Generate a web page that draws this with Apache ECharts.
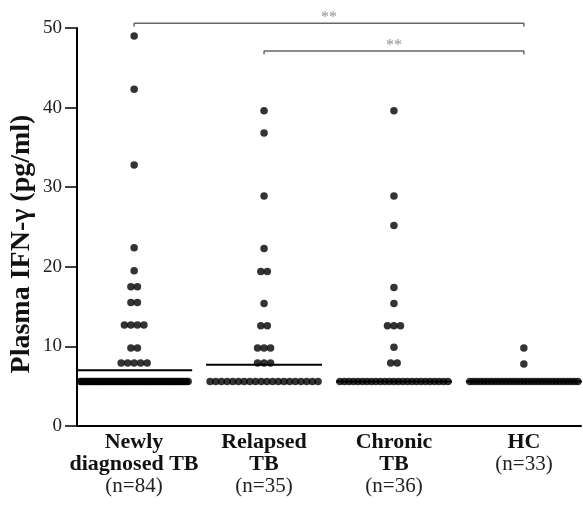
<!DOCTYPE html>
<html>
<head>
<meta charset="utf-8">
<script src="https://cdn.jsdelivr.net/npm/echarts@6/dist/echarts.min.js"></script>
<style>html,body{margin:0;padding:0;background:#fff}#c{width:583px;height:505px}</style>
</head>
<body>
<div id="c"></div>
<script>
// ---- data ----
var categories = ['Newly\ndiagnosed TB', 'Relapsed\nTB', 'Chronic\nTB', 'HC'];
var groupSizes = ['(n=84)', '(n=35)', '(n=36)', '(n=33)'];

var newlyLevels = [49.0, 42.3, 32.8, 22.4, 19.5, 17.5, 15.5, 12.7, 9.8, 7.9, 5.6];
var newlyCounts = [1, 1, 1, 1, 1, 2, 2, 4, 2, 5, 64];

var relapsedLevels = [39.6, 36.8, 28.9, 22.3, 19.4, 15.4, 12.6, 9.8, 7.9, 5.6];
var relapsedCounts = [1, 1, 1, 1, 2, 1, 2, 3, 3, 20];

var chronicLevels = [39.6, 28.9, 25.2, 17.4, 15.4, 12.6, 9.9, 7.9, 5.6];
var chronicCounts = [1, 1, 1, 1, 1, 3, 1, 2, 25];

var hcLevels = [9.8, 7.8, 5.6];
var hcCounts = [1, 1, 31];

var medians = [7.0, 7.7, 5.6, 5.6];

var yTicks = [0, 10, 20, 30, 40, 50];

var brackets = [
  { from: 1, to: 4, level: 50.6, text: '**' },
  { from: 2, to: 4, level: 47.1, text: '**' }
];

// ---- layout ----
var xMin = 0.56, xMax = 4.44;
var gridLeft = 77, gridRight = 2, gridTop = 28, gridBottom = 79;
var pxPerUnit = (583 - gridLeft - gridRight) / (xMax - xMin);
var dotStepPx = 6.5, maxSpreadPx = 108, medianHalfPx = 58;

function spread(levels, counts, center) {
  var pts = [];
  for (var i = 0; i < levels.length; i++) {
    var k = counts[i];
    var step = k > 1 ? Math.min(dotStepPx, maxSpreadPx / (k - 1)) : 0;
    for (var j = 0; j < k; j++) {
      var off = (j - (k - 1) / 2) * step / pxPerUnit;
      pts.push([center + off, levels[i]]);
    }
  }
  return pts;
}

var groups = [
  [newlyLevels, newlyCounts],
  [relapsedLevels, relapsedCounts],
  [chronicLevels, chronicCounts],
  [hcLevels, hcCounts]
];

var series = [];
var dots = [];
groups.forEach(function (g, i) {
  dots = dots.concat(spread(g[0], g[1], i + 1));
});
series.push({
  type: 'scatter', xAxisIndex: 0, yAxisIndex: 0,
  symbol: 'circle', symbolSize: 7.5,
  itemStyle: { color: '#000' },
  data: dots, z: 3, silent: true
});

medians.forEach(function (m, i) {
  var h = medianHalfPx / pxPerUnit;
  series.push({
    type: 'line', xAxisIndex: 0, yAxisIndex: 0,
    symbol: 'none', silent: true, z: 4,
    lineStyle: { color: '#000', width: 2 },
    data: [[i + 1 - h, m], [i + 1 + h, m]]
  });
});

brackets.forEach(function (b) {
  series.push({
    type: 'line', xAxisIndex: 0, yAxisIndex: 0,
    symbol: 'none', silent: true, clip: false,
    lineStyle: { color: '#666', width: 1.5 },
    data: [[b.from, b.level - 0.4], [b.from, b.level], [b.to, b.level], [b.to, b.level - 0.4]]
  });
  series.push({
    type: 'scatter', xAxisIndex: 0, yAxisIndex: 0,
    symbolSize: 0, silent: true, clip: false,
    label: { show: true, position: 'top', distance: -3, formatter: b.text,
      color: '#777', fontSize: 16, fontFamily: 'Liberation Serif' },
    data: [[(b.from + b.to) / 2, b.level]]
  });
});

var chart = echarts.init(document.getElementById('c'), null, { renderer: 'canvas' });
chart.setOption({
  animation: false,
  backgroundColor: '#fff',
  grid: [
    { left: gridLeft, right: gridRight, top: gridTop, bottom: gridBottom, containLabel: false, outerBoundsMode: 'none' },
    { left: 69, width: 520, top: gridTop, bottom: gridBottom, containLabel: false, outerBoundsMode: 'none' }
  ],
  xAxis: [
    { type: 'value', gridIndex: 0, min: xMin, max: xMax,
      axisLine: { show: true, onZero: false, lineStyle: { color: '#000', width: 2 } },
      axisTick: { show: false }, axisLabel: { show: false }, splitLine: { show: false } },
    { type: 'category', gridIndex: 1, data: categories.map(function (c, i) { return i; }),
      axisLine: { show: false }, axisTick: { show: false }, splitLine: { show: false },
      axisLabel: {
        show: true, margin: 5, interval: 0,
        formatter: function (v, i) {
          var lines = categories[i].split('\n').map(function (s) { return '{b|' + s + '}'; });
          lines.push('{n|' + groupSizes[i] + '}');
          return lines.join('\n');
        },
        rich: {
          b: { fontFamily: 'Liberation Serif', fontWeight: 'bold', fontSize: 22, color: '#111', lineHeight: 22 },
          n: { fontFamily: 'Liberation Serif', fontWeight: 'normal', fontSize: 21, color: '#222', lineHeight: 23 }
        }
      } }
  ],
  yAxis: [
    { type: 'value', gridIndex: 0, min: yTicks[0], max: yTicks[yTicks.length - 1], interval: 10,
      name: 'Plasma IFN-γ (pg/ml)', nameLocation: 'middle', nameGap: 41, nameMoveOverlap: false,
      nameTextStyle: { fontFamily: 'Liberation Serif', fontWeight: 'bold', fontSize: 28, color: '#111',
        padding: [0, 34, 0, 0] },
      axisLine: { show: true, lineStyle: { color: '#000', width: 2 } },
      axisTick: { show: true, length: 12, lineStyle: { color: '#000', width: 1.5 } },
      axisLabel: { fontFamily: 'Liberation Serif', fontSize: 19, color: '#222', margin: 15 },
      splitLine: { show: false } },
    { type: 'value', gridIndex: 1, show: false, min: 0, max: 50 }
  ],
  series: series
});
</script>
</body>
</html>
